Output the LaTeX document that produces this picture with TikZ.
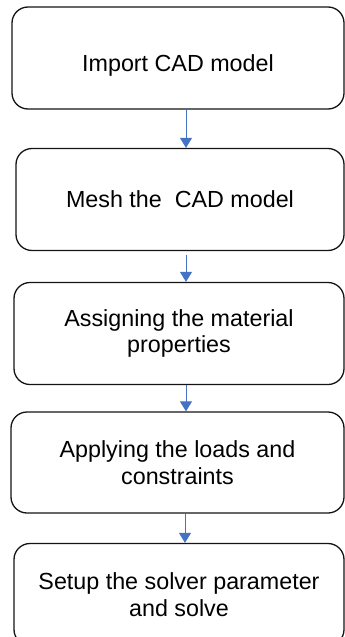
\documentclass[tikz,border=0pt]{standalone}
\usepackage{fontspec}
\setmainfont{Liberation Sans}
\usepackage{tikz}
\usetikzlibrary{arrows.meta, positioning}
\definecolor{flowblue}{RGB}{68,114,196}
\definecolor{dark}{RGB}{20,20,20}
\tikzset{
    stepbox/.style={rectangle, rounded corners=16pt, text centered, draw=dark, line width=1.3pt, align=center, font=\fontsize{23.3}{26.5}\selectfont},
    flow/.style={-{Triangle[width=12pt,length=10pt]}, line width=1pt, color=flowblue}
}

\begin{document}
\begin{tikzpicture}[
    x=1pt, y=-1pt,
    wide/.style={minimum width=#1pt, minimum height=102pt}
]
    \useasboundingbox (0,0) rectangle (345,637);
    \clip (0,0) rectangle (345,637);

    % Step 1
    \node[stepbox, wide=332] (import) at (178,58) {\raisebox{-13pt}[0pt][0pt]{Import CAD model}};
    % Step 2
    \node[stepbox, wide=328] (mesh) at (180,199.5) {Mesh the\ \ CAD model};
    % Step 3
    \node[stepbox, wide=330] (material) at (179,333.5) {Assigning the material\\ properties};
    % Step 4
    \node[stepbox, wide=333, minimum height=101pt] (loads) at (177.5,462.5) {Applying the loads and\\ constraints};
    % Step 5
    \node[stepbox, wide=330] (solver) at (179,594.5) {Setup the solver parameter\\ and solve};

    % Connections
    \draw[flow] ([xshift=8pt]import.south) -- ([xshift=6pt]mesh.north);
    \draw[flow] ([xshift=6pt,yshift=-4pt]mesh.south) -- ([xshift=7pt]material.north);
    \draw[flow] ([xshift=7pt]material.south) -- ([xshift=8.5pt]loads.north);
    \draw[flow] ([xshift=7.5pt]loads.south) -- ([xshift=6pt]solver.north);
\end{tikzpicture}
\end{document}
